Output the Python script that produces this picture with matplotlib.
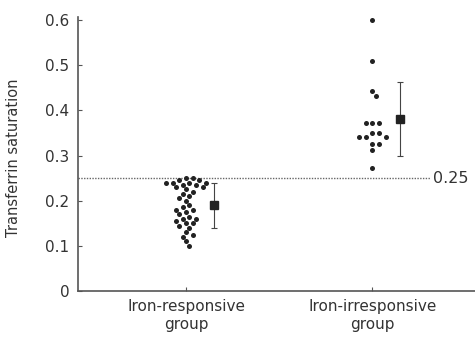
import numpy as np
import matplotlib
matplotlib.use("Agg")
import matplotlib.pyplot as plt

# transferrin saturation per patient
responsive = [0.25, 0.25, 0.245, 0.245, 0.24, 0.24, 0.24, 0.24, 0.235, 0.235, 0.23, 0.23,
              0.225, 0.22, 0.215, 0.21, 0.205, 0.20,
              0.19, 0.185, 0.18, 0.18,
              0.175, 0.17, 0.165, 0.16, 0.16, 0.155, 0.15, 0.15, 0.145, 0.14,
              0.13, 0.125, 0.12, 0.11, 0.10]
irresponsive = [0.60, 0.51, 0.443, 0.432,
                0.372, 0.372, 0.372,
                0.35, 0.35, 0.342, 0.342, 0.342,
                0.325, 0.325, 0.312, 0.272]

groups = ["Iron-responsive\ngroup", "Iron-irresponsive\ngroup"]
means = [0.19, 0.38]
sds = [0.05, 0.082]
threshold = 0.25
yticks = [0, 0.1, 0.2, 0.3, 0.4, 0.5, 0.6]

ink = "#333333"

fig = plt.figure(figsize=(4.75, 3.42), dpi=100)
# y range 0..0.62 keeps 0.6 at the same height as the reference
ax = fig.add_axes([0.164, 0.149, 0.836, 0.8187])
ax.set_xlim(-0.58, 1.55)
ax.set_ylim(0, 0.62)


def swarm(values, dot_px):
    # simple beeswarm in pixel space, returns x offsets in data units
    ys = ax.transData.transform([(0, v) for v in values])[:, 1]
    order = np.argsort(ys)[::-1]
    placed = []
    xs = np.zeros(len(values))
    for i in order:
        y = ys[i]
        k = 0
        while True:
            cands = [0.0] if k == 0 else [k * dot_px * 0.6, -k * dot_px * 0.6]
            ok = None
            for c in cands:
                if all((c - px) ** 2 + (y - py) ** 2 >= dot_px ** 2 for px, py in placed):
                    ok = c
                    break
            if ok is not None:
                placed.append((ok, y))
                xs[i] = ok
                break
            k += 1
    x0 = ax.transData.transform((0, 0))[0]
    return [ax.transData.inverted().transform((x0 + d, 0))[0] for d in xs]


for gi, vals in enumerate([responsive, irresponsive]):
    offs = swarm(vals, 5.6)
    ax.scatter(np.array(offs) + gi, vals, s=13, marker="o", color="#222222",
               linewidths=0, zorder=3)
    ax.errorbar(gi + 0.15, means[gi], yerr=sds[gi], fmt="s", ms=5.5,
                color="#222222", ecolor="#444444", elinewidth=0.8,
                capsize=2.5, capthick=0.8, zorder=3)

ax.plot([-0.58, 1.31], [threshold, threshold], ls=(0, (1, 1)), color="#666666",
        lw=1.0, zorder=2)
ax.text(1.325, threshold, "0.25", va="center", ha="left", fontsize=11.5, color=ink)

for s in ["top", "right"]:
    ax.spines[s].set_visible(False)
for s in ["left", "bottom"]:
    ax.spines[s].set_color("#555555")
    ax.spines[s].set_linewidth(1.2)
ax.spines["left"].set_bounds(0, 0.607)

ax.set_yticks(yticks)
ax.set_yticklabels(["0", "0.1", "0.2", "0.3", "0.4", "0.5", "0.6"])
ax.set_xticks([0, 1])
ax.set_xticklabels(groups)
ax.tick_params(axis="y", direction="in", length=3, color="#555555",
               labelsize=11, labelcolor=ink, pad=6)
ax.tick_params(axis="x", direction="in", length=3, color="#555555",
               labelsize=11, labelcolor=ink, pad=6)
ax.set_ylabel("Transferrin saturation", fontsize=10.5, color=ink)
ax.yaxis.set_label_coords(-0.144, 0.476)

fig.savefig("out.png", dpi=100)
